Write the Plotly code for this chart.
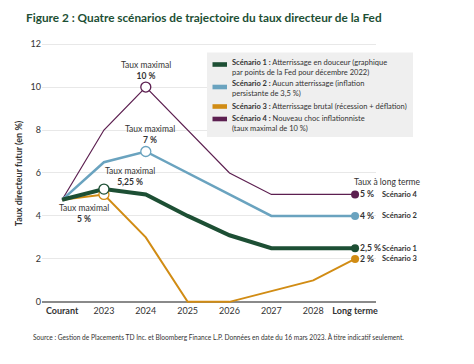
import plotly.graph_objects as go

categories = ["Courant", "2023", "2024", "2025", "2026", "2027", "2028", "Long terme"]
tick_labels = ["<b>Courant</b>", "2023", "2024", "2025", "2026", "2027", "2028", "<b>Long terme</b>"]
scen1 = [4.75, 5.25, 5.0, 4.0, 3.1, 2.5, 2.5, 2.5]
scen2 = [4.75, 6.5, 7.0, 6.0, 5.0, 4.0, 4.0, 4.0]
scen3 = [4.75, 5.0, 3.0, 0.0, 0.0, 0.5, 1.0, 2.0]
scen4 = [4.75, 8.0, 10.0, 8.0, 6.0, 5.0, 5.0, 5.0]
lt_labels = ["2,5 %", "4 %", "2 %", "5 %"]
scen_names = ["Scénario 1", "Scénario 2", "Scénario 3", "Scénario 4"]
legend_texts = [
    "<b>Scénario 1 :</b> Atterrissage en douceur (graphique<br>par points de la Fed pour décembre 2022)",
    "<b>Scénario 2 :</b> Aucun atterrissage (inflation<br>persistante de 3,5 %)",
    "<b>Scénario 3 :</b> Atterrissage brutal (récession + déflation)",
    "<b>Scénario 4 :</b> Nouveau choc inflationniste<br>(taux maximal de 10 %)",
]
peak_idx = [1, 2, 1, 2]
peak_labels = ["5,25 %", "7 %", "5 %", "10 %"]

colors = ["#1d4f34", "#6aa3bf", "#d18c14", "#5c1f50"]
widths = [4, 2.5, 2, 1.2]

W, H = 474, 364
L, R, T, B = 42, 98, 43, 60
FONT = "Lato"

def px_x(px):
    return (px - L) / (W - L - R)

def px_y(py):
    return (H - B - py) / (H - T - B)

xs = list(range(len(categories)))
series = [scen1, scen2, scen3, scen4]

fig = go.Figure()
for i in [3, 1, 2, 0]:
    fig.add_trace(go.Scatter(x=xs, y=series[i], mode="lines",
                             line=dict(color=colors[i], width=widths[i]),
                             showlegend=False, hoverinfo="skip"))
for i in [3, 1, 2, 0]:
    fig.add_trace(go.Scatter(x=[xs[-1]], y=[series[i][-1]], mode="markers",
                             marker=dict(color=colors[i], size=8),
                             showlegend=False, cliponaxis=False, hoverinfo="skip"))
    k = peak_idx[i]
    fig.add_trace(go.Scatter(x=[xs[k]], y=[series[i][k]], mode="markers",
                             marker=dict(color="white", size=10,
                                         line=dict(color=colors[i], width=1.3)),
                             showlegend=False, cliponaxis=False, hoverinfo="skip"))

ann = []
txt = "#333333"
peak_pos = [  # (xshift, yshift, above/below)
    (26, 0, "above"), (4, 4, "above"), (-20, -7, "below"), (0, 4, "above")]
for i in range(4):
    k = peak_idx[i]
    xsft, ysft, pos = peak_pos[i]
    ann.append(dict(x=xs[k], y=series[i][k], xref="x", yref="y",
                    text=f"Taux maximal<br><b>{peak_labels[i]}</b>",
                    showarrow=False, xshift=xsft, yshift=ysft,
                    yanchor="bottom" if pos == "above" else "top",
                    font=dict(size=8.5, color=txt, family=FONT), align="center"))
for i in range(4):
    ann.append(dict(x=xs[-1], y=series[i][-1], xref="x", yref="y",
                    text=f"<b>{lt_labels[i]}</b>", showarrow=False,
                    xanchor="left", xshift=3, font=dict(size=8.6, color=txt, family=FONT)))
    ann.append(dict(x=xs[-1], y=series[i][-1], xref="x", yref="y",
                    text=f"<b>{scen_names[i]}</b>", showarrow=False,
                    xanchor="left", xshift=25, font=dict(size=7.5, color=txt, family=FONT)))
ann.append(dict(x=px_x(352), y=px_y(181.5), xref="paper", yref="paper",
                text="Taux à long terme", showarrow=False, xanchor="left",
                font=dict(size=8.5, color=txt, family=FONT)))

shapes = []
shapes.append(dict(type="rect", xref="paper", yref="paper",
                   x0=px_x(207), x1=px_x(413), y0=px_y(137), y1=px_y(52.5),
                   fillcolor="#efefef", line=dict(width=0), layer="above"))
sw_y = [64.5, 87, 106.5, 119]
tx_y = [67.8, 88.2, 106.7, 123.3]
for i in range(4):
    shapes.append(dict(type="rect", xref="paper", yref="paper",
                       x0=px_x(212.5), x1=px_x(227), y0=px_y(sw_y[i] + 2.3), y1=px_y(sw_y[i] - 2.3),
                       fillcolor=colors[i], line=dict(width=0), layer="above"))
    ann.append(dict(x=px_x(229.5), y=px_y(tx_y[i]), xref="paper", yref="paper",
                    text=legend_texts[i], showarrow=False, xanchor="left", yanchor="middle",
                    align="left", font=dict(size=7.5, color=txt, family=FONT)))

ann.append(dict(x=px_x(31), y=px_y(337), xref="paper", yref="paper",
                text="Source : Gestion de Placements TD Inc. et Bloomberg Finance L.P. Données en date du 16 mars 2023. À titre indicatif seulement.",
                showarrow=False, xanchor="left", yanchor="middle",
                font=dict(size=6.6, color=txt, family=FONT)))

fig.update_layout(
    width=W, height=H,
    margin=dict(l=L, r=R, t=T, b=B),
    paper_bgcolor="white", plot_bgcolor="white",
    title=dict(text="<b>Figure 2 : Quatre scénarios de trajectoire du taux directeur de la Fed</b>",
               x=26 / W, xanchor="left", xref="container",
               y=1 - 17.5 / H, yanchor="middle", yref="container",
               font=dict(size=11.8, color="#1d4f34", family=FONT)),
    font=dict(family=FONT, color=txt),
    annotations=ann, shapes=shapes,
    showlegend=False,
)
fig.update_xaxes(range=[-0.48, 7.5], tickvals=xs, ticktext=tick_labels,
                 showgrid=False, zeroline=False, showline=False, ticks="",
                 tickfont=dict(size=9, color=txt, family=FONT))
fig.update_yaxes(range=[-0.1, 12.05], tickvals=[0, 2, 4, 6, 8, 10, 12],
                 showgrid=True, gridcolor="#e8e8e8", gridwidth=1,
                 zeroline=True, zerolinecolor="#8a8a8a", zerolinewidth=2,
                 ticks="", tickfont=dict(size=9, color=txt, family=FONT),
                 title=dict(text="<b>Taux directeur futur (en %)</b>", standoff=6,
                            font=dict(size=9, color=txt, family=FONT)))

fig.write_html("out.html", config={"displayModeBar": False},
               post_script="document.body.style.margin='0';document.body.style.overflow='hidden';")
